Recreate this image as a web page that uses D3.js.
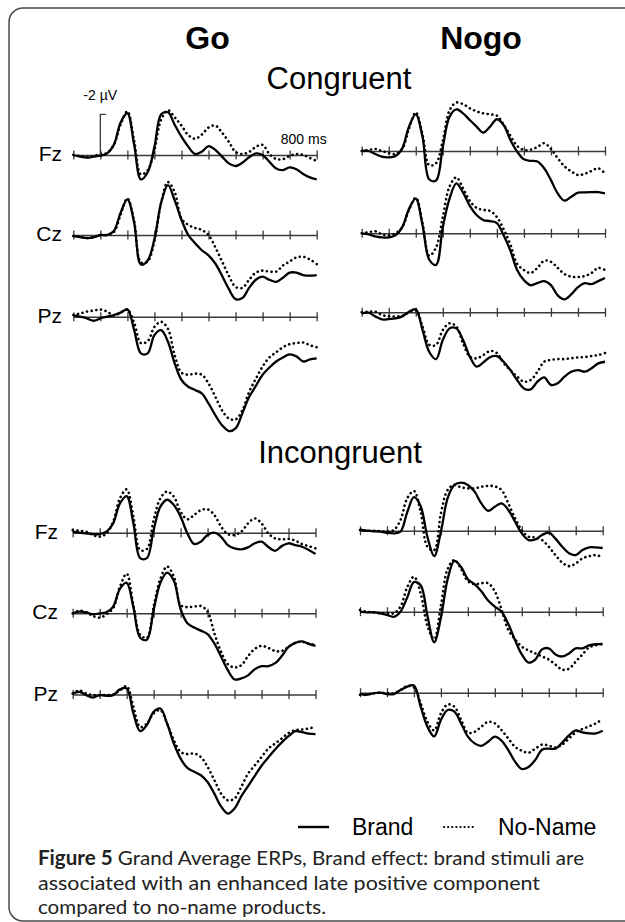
<!DOCTYPE html>
<html>
<head>
<meta charset="utf-8">
<script src="https://cdn.jsdelivr.net/npm/d3@7"></script>
<style>
  html, body { margin: 0; padding: 0; background: #fff; }
  svg { display: block; }
  text { font-family: "Liberation Sans", Arial, sans-serif; fill: #000; }
</style>
</head>
<body>
<svg id="fig" width="625" height="922"></svg>
<script>
// sample times (ms) and axis ticks
var TIMES = [-100, -75, -50, -25, 0, 25, 50, 75, 100, 125, 150, 175, 200, 225, 250, 275,
  300, 325, 350, 375, 400, 425, 450, 475, 500, 525, 550, 575, 600, 625, 650, 675,
  700, 725, 750, 775, 800];
var TICKS_MS = [-100, 0, 100, 200, 300, 400, 500, 600, 700, 800];
var ELECTRODES = ['Fz', 'Cz', 'Pz'];
var SERIES_NAMES = ['Brand', 'No-Name'];

// amplitudes in µV (negative plotted up), congruent / go
var goCongFzBrand = [0, 0.08, 0.13, 0.08, 0.03, -0.08, -0.5, -1.6, -2.05, -0.5, 1.2, 0.85, -0.4, -2.0, -2.1, -1.48,
  -0.9, -0.41, -0.05, -0.16, -0.44, -0.25, 0.08, 0.41, 0.54, 0.38, 0.11, -0.08, 0, 0.33, 0.66, 0.74,
  0.61, 0.7, 0.93, 1.1, 1.2];
var goCongFzNoName = [0, 0.05, 0.1, 0.05, -0.05, -0.1, -0.5, -1.5, -2.15, -0.7, 0.95, 0.75, -0.25, -1.75, -2.2, -1.85,
  -1.45, -0.98, -0.8, -1.0, -1.35, -1.45, -1.1, -0.65, -0.15, -0.05, -0.15, -0.4, -0.5, -0.05, 0.2, 0.2,
  0.05, -0.05, 0, 0.15, 0.3];
var goCongCzBrand = [0.05, 0.1, 0.15, 0.12, 0, 0, -0.2, -1.1, -1.75, -0.6, 1.45, 1.25, 0.2, -1.6, -2.45, -1.7,
  -0.75, 0, 0.4, 0.75, 1.0, 1.4, 2.0, 2.65, 3.15, 3.1, 2.6, 2.2, 2.05, 2.2, 2.3, 2.1,
  1.85, 1.85, 1.97, 2.0, 1.97];
var goCongCzNoName = [0.05, 0.1, 0.15, 0.1, 0, 0, -0.15, -1.0, -1.8, -0.7, 1.35, 1.3, 0.3, -1.6, -2.6, -2.1,
  -0.8, -0.5, -0.35, -0.25, 0, 0.6, 1.3, 2.0, 2.55, 2.6, 2.2, 1.85, 1.75, 1.8, 1.8, 1.5,
  1.3, 1.1, 1.07, 1.2, 1.43];
var goCongPzBrand = [-0.08, 0, 0.08, 0.2, 0.08, 0, -0.08, -0.2, -0.36, 0.66, 1.8, 1.8, 0.9, 0.66, 1.23, 2.3,
  3.11, 3.44, 3.6, 3.77, 4.26, 4.84, 5.33, 5.62, 5.49, 4.75, 3.95, 3.4, 2.85, 2.5, 2.2, 2.0,
  1.85, 1.95, 2.2, 2.1, 2.05];
var goCongPzNoName = [-0.08, -0.16, -0.25, -0.3, -0.35, -0.25, -0.05, -0.2, -0.35, 0.3, 1.3, 1.2, 0.5, 0.25, 0.6, 1.9,
  2.75, 2.85, 2.8, 2.85, 3.28, 3.93, 4.6, 5.0, 5.05, 4.6, 3.7, 3.05, 2.45, 2.0, 1.75, 1.5,
  1.35, 1.3, 1.27, 1.4, 1.5];

// congruent / nogo
var nogoCongFzBrand = [0, 0, 0.15, 0.28, 0.31, 0.25, -0.13, -1.2, -1.8, -0.7, 1.4, 1.45, -0.2, -1.69, -2.05, -1.85,
  -1.52, -1.2, -0.9, -1.2, -1.56, -1.28, -0.54, 0.03, 0.41, 0.48, 0.52, 0.85, 1.43, 2.08, 2.44, 2.25,
  2.05, 2.03, 2.02, 2.02, 2.08];
var nogoCongFzNoName = [0, -0.05, -0.1, 0, 0.1, 0.15, -0.1, -1.1, -1.9, -0.8, 0.7, 0.6, -0.5, -2.0, -2.38, -2.3,
  -2.1, -1.95, -1.85, -1.8, -1.74, -1.3, -0.75, -0.25, -0.05, -0.07, -0.2, -0.38, -0.1, 0.35, 0.75, 1.0,
  1.18, 1.12, 0.98, 0.85, 1.1];
var nogoCongCzBrand = [0, 0.05, 0.15, 0.2, 0.2, 0.1, -0.3, -1.2, -1.7, -0.4, 1.3, 1.55, -0.3, -1.7, -2.45, -2.0,
  -1.35, -0.9, -0.65, -0.6, -0.5, 0.1, 0.85, 1.8, 2.3, 2.55, 2.45, 2.35, 2.55, 3.05, 3.25, 3.0,
  2.65, 2.45, 2.5, 2.35, 2.2];
var nogoCongCzNoName = [0, -0.05, -0.1, 0.05, 0.1, 0, -0.3, -1.15, -1.75, -0.5, 1.1, 0.7, -0.8, -2.3, -2.75, -2.2,
  -1.6, -1.25, -1.15, -1.1, -0.8, -0.2, 0.55, 1.5, 1.8, 1.95, 1.7, 1.35, 1.4, 1.7, 2.0, 2.13,
  2.15, 2.1, 1.95, 1.7, 1.8];
var nogoCongPzBrand = [0.05, 0.02, 0.2, 0.35, 0.33, 0.3, 0.2, -0.03, -0.15, 0.87, 1.95, 2.3, 1.36, 0.79, 0.79, 1.36,
  2.18, 2.67, 2.46, 2.2, 2.15, 2.43, 2.84, 3.33, 3.74, 3.79, 3.41, 3.2, 3.57, 3.49, 3.16, 2.92,
  2.84, 2.92, 2.75, 2.51, 2.43];
var nogoCongPzNoName = [0, -0.03, -0.03, 0.13, 0.2, 0.2, 0.18, 0, -0.1, 0.7, 1.6, 1.6, 0.87, 0.54, 0.7, 1.52,
  2.18, 2.26, 2.1, 1.9, 2.0, 2.5, 2.84, 3.16, 3.41, 3.33, 2.92, 2.43, 2.34, 2.3, 2.3, 2.26,
  2.22, 2.2, 2.15, 2.1, 2.0];

// incongruent / go
var goIncFzBrand = [-0.05, 0, 0.03, 0.07, 0.07, -0.05, -0.46, -1.44, -1.8, -0.46, 1.25, 1.25, -0.13, -1.28, -1.62, -1.36,
  -0.79, 0.03, 0.56, 0.44, 0.11, 0, 0.2, 0.61, 0.77, 0.82, 0.72, 0.52, 0.44, 0.7, 0.89, 0.66,
  0.52, 0.61, 0.69, 0.85, 1.05];
var goIncFzNoName = [-0.13, -0.1, -0.05, 0.11, 0.2, 0.03, -0.54, -1.69, -2.13, -0.79, 0.85, 0.8, -0.62, -1.69, -2.02, -1.77,
  -1.03, -0.66, -0.87, -1.11, -1.15, -0.87, -0.3, 0.07, 0.11, -0.05, -0.46, -0.7, -0.46, 0.03, 0.28, 0.33,
  0.3, 0.39, 0.56, 0.66, 0.77];
var goIncCzBrand = [0, -0.08, -0.05, 0.05, 0, -0.05, -0.33, -1.2, -1.5, -0.3, 1.2, 1.3, -0.16, -1.5, -2.0, -1.6,
  -0.2, 0.49, 0.7, 0.85, 1.02, 1.48, 2.13, 2.79, 3.25, 3.2, 3.05, 2.75, 2.6, 2.6, 2.45, 2.1,
  1.65, 1.45, 1.38, 1.5, 1.6];
var goIncCzNoName = [0, -0.13, -0.05, 0.13, 0.22, 0.05, -0.25, -1.3, -1.95, -0.4, 1.05, 1.2, -0.33, -1.7, -2.3, -1.8,
  -0.4, -0.3, -0.33, -0.36, -0.08, 0.98, 1.89, 2.5, 2.66, 2.55, 2.1, 1.75, 1.6, 1.7, 1.85, 1.85,
  1.65, 1.45, 1.4, 1.5, 1.55];
var goIncPzBrand = [-0.05, -0.13, 0.03, 0.15, 0.03, 0.07, 0.03, -0.25, -0.3, 0.93, 1.8, 1.5, 0.85, 0.69, 1.43, 2.41,
  3.15, 3.61, 3.8, 3.97, 4.3, 4.87, 5.5, 5.85, 5.6, 5.0, 4.5, 4.0, 3.5, 3.1, 2.7, 2.35,
  2.05, 1.8, 1.85, 1.92, 1.95];
var goIncPzNoName = [-0.05, -0.2, -0.05, 0.03, 0.03, 0.03, 0, -0.2, -0.41, 0.6, 1.6, 1.43, 0.93, 0.77, 1.43, 2.25,
  2.82, 2.93, 2.9, 3.07, 3.56, 4.2, 4.87, 5.2, 5.11, 4.54, 3.89, 3.48, 3.07, 2.66, 2.41, 2.16,
  1.89, 1.75, 1.72, 1.67, 1.59];

// incongruent / nogo
var nogoIncFzBrand = [-0.07, 0, 0.03, 0.05, 0.1, 0.13, 0.05, -0.9, -1.65, -1.2, 0.3, 1.25, 0.05, -1.6, -2.25, -2.36,
  -2.25, -1.92, -1.34, -0.98, -1.18, -1.34, -1.02, -0.44, 0.13, 0.46, 0.43, 0.21, 0.1, 0.39, 0.79, 1.11,
  1.2, 0.95, 0.82, 0.82, 0.85];
var nogoIncFzNoName = [-0.03, 0, 0, 0.02, 0.05, -0.03, -0.52, -1.59, -1.95, -0.93, 0.79, 0.95, -0.85, -2.0, -2.25, -2.13,
  -2.08, -2.08, -2.16, -2.2, -2.18, -2.0, -1.34, -0.61, -0.03, 0.3, 0.33, 0.46, 0.79, 1.2, 1.57, 1.74,
  1.61, 1.36, 1.25, 1.2, 1.3];
var nogoIncCzBrand = [0, 0.03, 0.03, 0.08, 0.16, 0.25, 0, -0.7, -1.45, -1.3, 0.2, 1.5, 0.3, -1.6, -2.5, -2.2,
  -1.6, -1.35, -1.0, -0.55, -0.25, 0, 0.6, 1.4, 2.1, 2.5, 2.35, 1.85, 1.8, 2.1, 2.2, 2.05,
  1.8, 1.8, 1.65, 1.6, 1.6];
var nogoIncCzNoName = [-0.08, 0, 0.03, 0.08, 0.08, 0.08, -0.25, -1.2, -1.72, -0.9, 0.7, 1.35, -0.3, -2.1, -2.54, -2.1,
  -1.5, -1.35, -1.4, -1.4, -1.0, -0.1, 0.9, 1.35, 1.72, 1.9, 2.05, 2.2, 2.35, 2.6, 2.85, 2.8,
  2.45, 2.1, 1.75, 1.65, 1.56];
var nogoIncPzBrand = [0.07, 0.1, 0.03, 0, 0.07, 0.07, -0.13, -0.3, -0.35, 0.69, 1.67, 2.15, 1.34, 0.85, 0.93, 1.51,
  2.16, 2.49, 2.61, 2.41, 2.16, 2.36, 2.82, 3.39, 3.75, 3.65, 3.3, 2.8, 2.75, 2.75, 2.45, 2.1,
  1.85, 1.95, 2.0, 2.0, 1.87];
var nogoIncPzNoName = [0.1, 0.1, 0.03, 0, 0.03, 0.03, -0.13, -0.33, -0.26, 0.52, 1.43, 1.85, 1.02, 0.58, 0.69, 1.34,
  1.97, 1.92, 1.67, 1.43, 1.51, 1.84, 2.25, 2.66, 2.85, 2.95, 2.75, 2.55, 2.6, 2.7, 2.55, 2.25,
  1.95, 1.78, 1.65, 1.5, 1.3];

// layout (pixel geometry of each panel)
var PX_PER_UV = 20.35;
var panels = [
    {x0: 73.3, x1: 316.7, rows: [155, 235, 316.7], labelX: 62, scaleBar: true,
     data: [[goCongFzBrand, goCongFzNoName], [goCongCzBrand, goCongCzNoName], [goCongPzBrand, goCongPzNoName]]},
    {x0: 361.7, x1: 605, rows: [151, 233.3, 312.3], labelX: null,
     data: [[nogoCongFzBrand, nogoCongFzNoName], [nogoCongCzBrand, nogoCongCzNoName], [nogoCongPzBrand, nogoCongPzNoName]]},
    {x0: 72.7, x1: 315.5, rows: [532.7, 613.3, 694.5], labelX: 58,
     data: [[goIncFzBrand, goIncFzNoName], [goIncCzBrand, goIncCzNoName], [goIncPzBrand, goIncPzNoName]]},
    {x0: 360, x1: 602.7, rows: [530.7, 611.7, 692.7], labelX: null,
     data: [[nogoIncFzBrand, nogoIncFzNoName], [nogoIncCzBrand, nogoIncCzNoName], [nogoIncPzBrand, nogoIncPzNoName]]}
];

var svg = d3.select('#fig');

svg.append('rect')
    .attr('width', 625).attr('height', 922)
    .attr('fill', '#fff');

// rounded frame, cut by the right edge of the picture
svg.append('rect')
    .attr('x', 9).attr('y', 8)
    .attr('width', 660).attr('height', 913)
    .attr('rx', 14).attr('ry', 14)
    .attr('fill', 'none')
    .attr('stroke', '#4a4a4a')
    .attr('stroke-width', 1.5);

// headings
svg.append('text').attr('x', 207.5).attr('y', 49)
    .attr('text-anchor', 'middle')
    .style('font-size', '32px').style('font-weight', 'bold')
    .text('Go');
svg.append('text').attr('x', 481).attr('y', 49)
    .attr('text-anchor', 'middle')
    .style('font-size', '32px').style('font-weight', 'bold')
    .text('Nogo');
svg.append('text').attr('x', 339).attr('y', 89)
    .attr('text-anchor', 'middle')
    .style('font-size', '31px')
    .text('Congruent');
svg.append('text').attr('x', 340).attr('y', 463)
    .attr('text-anchor', 'middle')
    .style('font-size', '31px')
    .text('Incongruent');

var line = d3.line().curve(d3.curveCatmullRom.alpha(0.5));

panels.forEach(function(p) {
    var x = d3.scaleLinear().domain([-100, 800]).range([p.x0, p.x1]);
    var g = svg.append('g');

    p.rows.forEach(function(axisY, r) {
        var y = d3.scaleLinear().domain([0, 1]).range([axisY, axisY + PX_PER_UV]);

        // time axis with ticks both sides
        var axis = d3.axisBottom(x).tickValues(TICKS_MS)
            .tickSizeInner(0).tickSizeOuter(0).tickFormat('');
        var ga = g.append('g').attr('transform', 'translate(0,' + axisY + ')').call(axis);
        ga.select('.domain').attr('stroke', '#3a3a3a').attr('stroke-width', 1.4);
        ga.selectAll('.tick line')
            .attr('y1', -4.5).attr('y2', 4.5)
            .attr('stroke', '#3a3a3a').attr('stroke-width', 1.3);

        if(p.labelX !== null) {
            g.append('text')
                .attr('x', p.labelX).attr('y', axisY + 6)
                .attr('text-anchor', 'end')
                .style('font-size', '21px')
                .text(ELECTRODES[r]);
        }

        p.data[r].forEach(function(vals, k) {
            var pts = TIMES.map(function(t, i) { return [x(t), y(vals[i])]; });
            var path = g.append('path')
                .attr('d', line(pts))
                .attr('fill', 'none')
                .attr('stroke', '#000')
                .attr('stroke-linejoin', 'round');
            if(k === 0) {
                path.attr('stroke-width', 2.3);
            } else {
                path.attr('stroke-width', 2.6)
                    .attr('stroke-linecap', 'round')
                    .attr('stroke-dasharray', '0.1,4.6');
            }
        });

        // calibration bar on the first go trace
        if(p.scaleBar && r === 0) {
            var x0 = x(0);
            g.append('path')
                .attr('d', 'M' + x0 + ',' + y(0) + 'V' + y(-2) + 'h5.5')
                .attr('fill', 'none')
                .attr('stroke', '#3a3a3a')
                .attr('stroke-width', 1.3);
            g.append('text')
                .attr('x', x0 - 17).attr('y', y(-2) - 14)
                .style('font-size', '14px')
                .text('-2 µV');
            g.append('text')
                .attr('x', x(800) + 10).attr('y', axisY - 11)
                .attr('text-anchor', 'end')
                .style('font-size', '14px')
                .text('800 ms');
        }
    });
});

// legend
var legend = svg.append('g').attr('transform', 'translate(0,835)');
var legendItems = [{x: 298, name: SERIES_NAMES[0], dotted: false}, {x: 444, name: SERIES_NAMES[1], dotted: true}];
legendItems.forEach(function(d) {
    var l = legend.append('line')
        .attr('x1', d.x).attr('x2', d.x + 31)
        .attr('y1', -8).attr('y2', -8)
        .attr('stroke', '#000');
    if(d.dotted) {
        l.attr('stroke-width', 2.2).attr('stroke-linecap', 'round').attr('stroke-dasharray', '0.1,4');
    } else {
        l.attr('stroke-width', 2.4);
    }
    legend.append('text')
        .attr('x', d.x + 54).attr('y', 0)
        .style('font-size', '23px')
        .text(d.name);
});

// caption
var captionLines = [
    [{b: true, t: 'Figure 5'}, {b: false, t: ' Grand Average ERPs, Brand effect: brand stimuli are'}],
    [{b: false, t: 'associated with an enhanced late positive component'}],
    [{b: false, t: 'compared to no-name products.'}]
];
var captionWidths = [546, 502, 288];
captionLines.forEach(function(parts, i) {
    var t = svg.append('text')
        .attr('x', 38).attr('y', 865 + i * 24.5)
        .attr('textLength', captionWidths[i])
        .attr('lengthAdjust', 'spacingAndGlyphs')
        .style('font-family', 'Lato, "Open Sans", sans-serif')
        .style('font-size', '20px')
        .style('fill', '#222');
    parts.forEach(function(s) {
        t.append('tspan').style('font-weight', s.b ? 'bold' : 'normal').text(s.t);
    });
});
</script>
</body>
</html>
